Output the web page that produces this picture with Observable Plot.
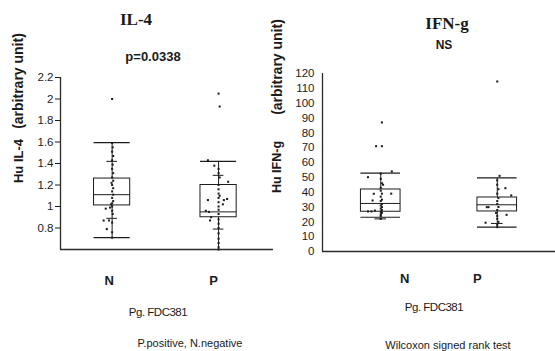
<!DOCTYPE html>
<html><head><meta charset="utf-8">
<script src="https://cdn.jsdelivr.net/npm/d3@7"></script>
<script src="https://cdn.jsdelivr.net/npm/@observablehq/plot@0.6"></script>
<style>
body{margin:0;background:#fff;}
#wrap{position:relative;width:555px;height:351px;overflow:hidden;font-family:"Liberation Sans",Arial,sans-serif;color:#1a1a1a;}
#wrap svg{position:absolute;top:0;background:transparent;}
.t{position:absolute;transform:translate(-50%,-50%);white-space:nowrap;line-height:1;}
.title{font-family:"Liberation Serif","Times New Roman",serif;font-weight:bold;font-size:17px;}
.rot{transform:translate(-50%,-50%) rotate(-90deg);font-weight:bold;}
</style></head>
<body><div id="wrap"></div>
<script>
// ---------- data ----------
const groups = ["N", "P"];

// IL-4 : [min, q1, median, q3, max]
const il4Stats = [[0.71, 1.01, 1.11, 1.26, 1.595], [0.60, 0.90, 0.95, 1.20, 1.42]];
const il4SdTicks = [[0.89, 1.42], [0.79, 1.29]];
const il4Ticks = [0.8, 1, 1.2, 1.4, 1.6, 1.8, 2, 2.2];
// [value, horizontal jitter]
const il4N = [[1.59,0],[1.55,0.005],[1.51,0],[1.47,0.01],[1.43,0],[1.39,0.005],[1.35,0],[1.31,0.01],[1.27,0],[1.24,0.01],[1.22,-0.005],[1.2,0],[1.17,0.01],[1.14,0],[1.11,0.01],[1.08,0],[1.05,0.01],[1.03,0],[1.02,-0.01],[1.0,0],[0.99,-0.02],[0.96,0],[0.93,0.005],[0.85,0],[0.76,0],[0.71,0],[0.98,-0.06],[0.87,-0.08],[0.87,-0.03],[0.79,-0.05],[2.0,0]];
const il4P = [[1.43,-0.1],[1.38,-0.04],[1.35,0],[1.31,0],[1.27,0.01],[1.23,0.09],[1.2,0],[1.16,0],[1.12,0],[1.1,0.01],[1.08,0],[1.07,0.08],[1.06,-0.1],[1.06,0.05],[1.04,0],[1.02,0.04],[1.0,0],[0.97,0],[0.96,-0.12],[0.95,-0.09],[0.93,0],[0.9,-0.07],[0.88,0],[0.87,-0.08],[0.84,0],[0.8,0],[0.75,0],[0.7,0],[0.66,0],[0.62,0],[0.6,0],[2.05,0],[1.93,0.01]];

// IFN-g : [min, q1, median, q3, max]
const ifnStats = [[23.1, 26.8, 32.4, 41.8, 52.8], [16.4, 27.0, 31.5, 36.4, 49.7]];
const ifnSdTicks = [[22, null], [18.9, null]];
const ifnTicks = [0, 10, 20, 30, 40, 50, 60, 70, 80, 90, 100, 110, 120];
const ifnN = [[52.5,0],[49,0],[46,0.01],[45,0.02],[43,0],[41,0],[39,0.01],[37,0],[35,0.01],[34,0],[32,0.01],[31,0],[30,0.01],[29,0],[28,0.01],[27,0],[26,0.01],[25,0],[24,0],[22,0],[50.1,-0.11],[54,0.095],[38.9,-0.06],[39,0.09],[34.4,-0.07],[27,-0.11],[27,-0.08],[27.6,-0.05],[87,0.01],[71,-0.04],[71,0.01]];
const ifnP = [[51,0.02],[48,0],[45,0],[42,0.01],[39,0],[36,0.01],[34,0],[32,0],[30,0.01],[28,0],[26,-0.01],[24,0],[22,0],[20,0.01],[18,0],[16.4,0],[42.7,0.07],[37.8,0.12],[29.9,-0.09],[29.9,-0.075],[24.7,0.08],[19.4,-0.1],[114.6,0]];

// ---------- drawing ----------
const ink = "#1c1c1c";
function panel(o) {
  const rows = groups.map((g, i) => ({
    pos: i + 1, min: o.stats[i][0], q1: o.stats[i][1], med: o.stats[i][2], q3: o.stats[i][3], max: o.stats[i][4],
    lo: o.sd[i][0], hi: o.sd[i][1]
  }));
  const pts = [];
  o.points.forEach((arr, i) => arr.forEach(([v, j]) => pts.push({x: i + 1 + j, y: v})));
  const hw = o.hw, sw = 0.05;
  const lab = (i) => Plot.axisX({ticks: [i + 1], tickFormat: () => groups[i], tickSize: 0, tickPadding: o.labPad,
    dx: o.labDx[i], fontSize: 13, fontWeight: "bold", fill: ink});
  return Plot.plot({
    width: o.width, height: 351,
    marginLeft: o.ml, marginRight: o.mr, marginTop: o.mt, marginBottom: o.mb,
    style: {fontFamily: "Liberation Sans, Arial, sans-serif", fontSize: "11.5px", color: ink, background: "transparent"},
    x: {type: "linear", domain: o.xDomain},
    y: {domain: o.yDomain},
    marks: [
      Plot.ruleX(rows, {x: "pos", y1: "min", y2: "max", stroke: ink, strokeWidth: 1}),
      Plot.rect(rows, {x1: d => d.pos - hw, x2: d => d.pos + hw, y1: "q1", y2: "q3", fill: "white", stroke: ink, strokeWidth: 1}),
      Plot.ruleY(rows, {y: "med", x1: d => d.pos - hw, x2: d => d.pos + hw, stroke: ink, strokeWidth: 1}),
      Plot.ruleY(rows, {y: "min", x1: d => d.pos - hw, x2: d => d.pos + hw, stroke: ink, strokeWidth: 1.2}),
      Plot.ruleY(rows, {y: "max", x1: d => d.pos - hw, x2: d => d.pos + hw, stroke: ink, strokeWidth: 1.2}),
      Plot.ruleY(rows.filter(d => d.lo != null), {y: "lo", x1: d => d.pos - sw, x2: d => d.pos + sw, stroke: ink}),
      Plot.ruleY(rows.filter(d => d.hi != null), {y: "hi", x1: d => d.pos - sw, x2: d => d.pos + sw, stroke: ink}),
      Plot.dot(pts, {x: "x", y: "y", symbol: "square", r: 1.15, fill: ink, stroke: null}),
      Plot.ruleX([o.xDomain[0]], {stroke: "#2a2a2a", strokeWidth: 1.3}),
      Plot.ruleY([o.yDomain[0]], {stroke: "#2a2a2a", strokeWidth: 1.6}),
      Plot.axisY({ticks: o.ticks, tickFormat: d => String(d), tickSize: o.tickSize, tickPadding: o.tickPad, fill: ink, stroke: ink}),
      lab(0), lab(1)
    ]
  });
}

const wrap = document.getElementById("wrap");
const left = panel({
  stats: il4Stats, sd: il4SdTicks, points: [il4N, il4P], ticks: il4Ticks,
  yDomain: [0.6, 2.2], xDomain: [0.515, 2.516], hw: 0.17,
  width: 277, ml: 60, mr: 4, mt: 77, mb: 102, tickSize: 5, tickPad: 2,
  labPad: 26, labDx: [-3, -5]
});
left.style.left = "0px";
wrap.appendChild(left);

const right = panel({
  stats: ifnStats, sd: ifnSdTicks, points: [ifnN, ifnP], ticks: ifnTicks,
  yDomain: [0, 120], xDomain: [0.5, 2.5], hw: 0.17,
  width: 278, ml: 45, mr: 0, mt: 73, mb: 100, tickSize: 0, tickPad: 8,
  labPad: 22, labDx: [24, -20]
});
right.style.left = "277px";
wrap.appendChild(right);

const texts = [
  ["IL-4", 136, 19, "title", ""],
  ["p=0.0338", 153, 56, "", "font-weight:bold;font-size:13px"],
  ["IFN-g", 447, 23, "title", ""],
  ["NS", 444, 45, "", "font-weight:bold;font-size:12px"],
  ["(arbitrary unit)", 18, 81, "rot", "font-size:14px"],
  ["Hu IL-4", 18, 161, "rot", "font-size:13px"],
  ["(arbitrary unit)", 277, 67, "rot", "font-size:14px"],
  ["Hu IFN-g", 277, 167, "rot", "font-size:12.5px"],
  ["Pg. FDC381", 158, 313, "", "font-size:11.5px;letter-spacing:-0.5px"],
  ["Pg. FDC381", 434, 308, "", "font-size:11.5px;letter-spacing:-0.5px"],
  ["P.positive, N.negative", 190, 343, "", "font-size:11px"],
  ["Wilcoxon signed rank test", 448, 345, "", "font-size:11px"]
];
for (const [s, x, y, cls, st] of texts) {
  const d = document.createElement("div");
  d.className = "t " + cls;
  d.textContent = s;
  d.style.cssText = `left:${x}px;top:${y}px;${st}`;
  wrap.appendChild(d);
}
</script>
</body></html>
